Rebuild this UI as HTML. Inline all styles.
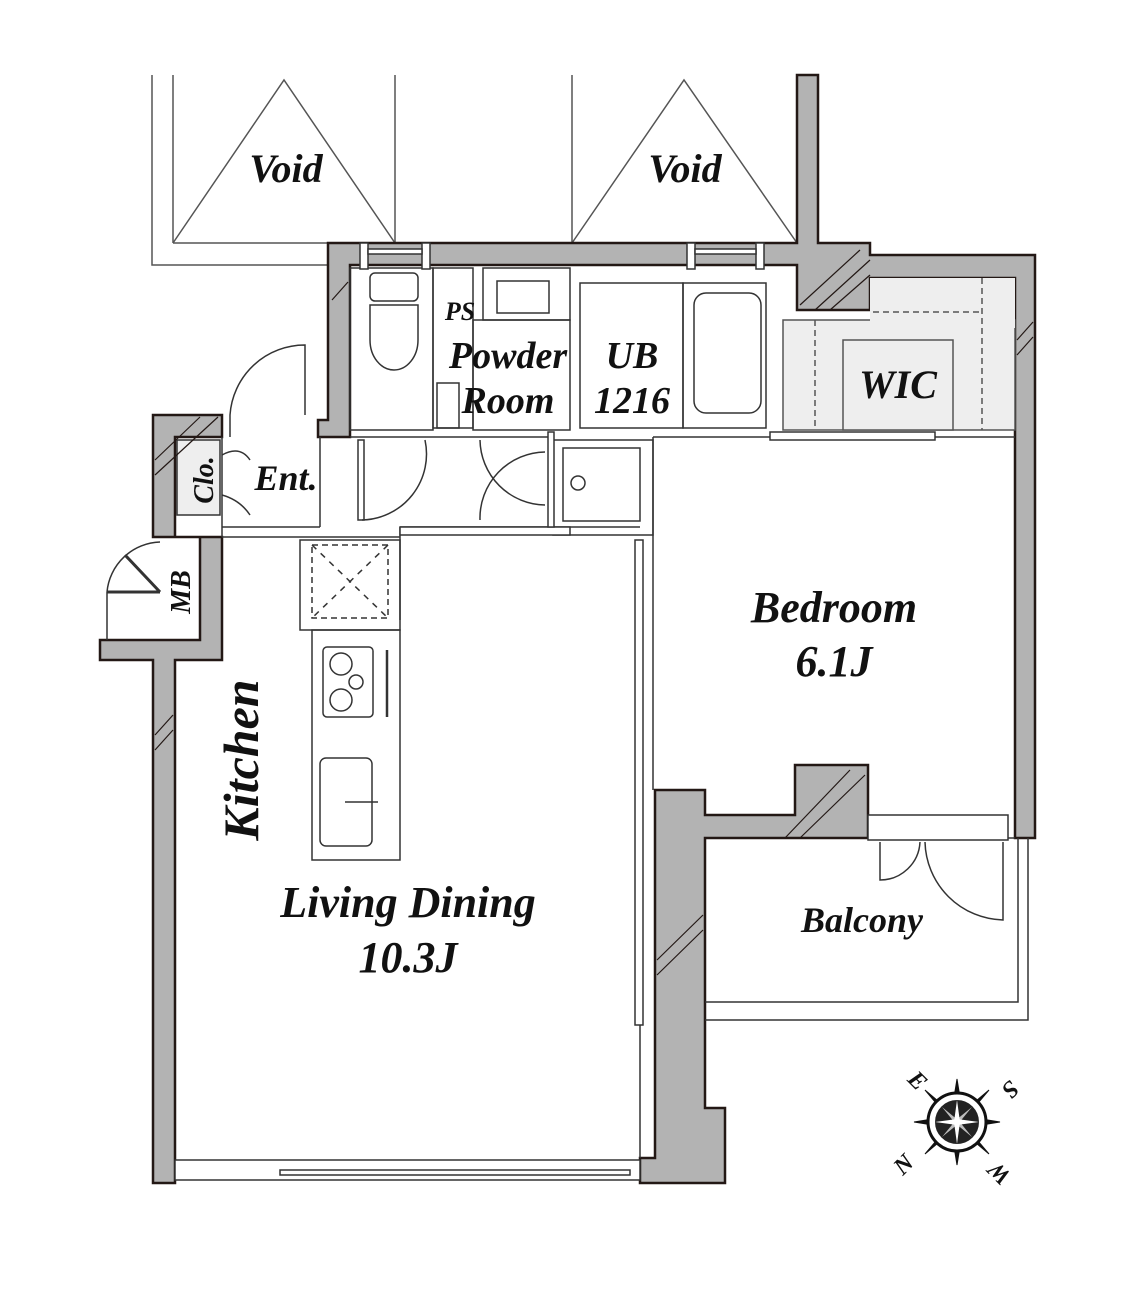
<!DOCTYPE html>
<html><head><meta charset="utf-8"><style>
html,body{margin:0;padding:0;background:#fff}
svg{display:block}
text{font-family:"Liberation Serif",serif;font-weight:bold;font-style:italic;fill:#111}
</style></head><body>
<svg width="1137" height="1294" viewBox="0 0 1137 1294" xmlns="http://www.w3.org/2000/svg">
<g fill="none" stroke="#555" stroke-width="1.5">
<polyline points="152,75 152,265 328,265"/>
<line x1="173" y1="75" x2="173" y2="243"/><line x1="395" y1="75" x2="395" y2="243"/>
<line x1="173" y1="243" x2="395" y2="243"/>
<polyline points="173,243 284,80 395,243"/>
<line x1="572" y1="75" x2="572" y2="243"/><line x1="572" y1="243" x2="797" y2="243"/>
<polyline points="572,243 684,80 797,243"/>
</g>
<g fill="#b3b3b3" stroke="#231815" stroke-width="2.5">
<path d="M328,243 H797 V75 H818 V243 H870 V255 H1035 V838 H1015 V278 H870 V310 H797 V265 H350 V437 H318 V420 H328 Z"/>
<path d="M153,415 H222 V437 H175 V537 H222 V660 H175 V1183 H153 V660 H100 V640 H200 V537 H153 Z"/>
<path d="M655,790 H705 V815 H795 V765 H868 V838 H705 V1108 H725 V1183 H640 V1158 H655 V1108 H655 Z"/>
</g>
<rect x="177" y="440" width="43" height="75" fill="#eee" stroke="#333" stroke-width="1.5"/>
<g stroke="#231815" stroke-width="1.2" fill="none">
<line x1="800" y1="305" x2="860" y2="250"/><line x1="815" y1="310" x2="870" y2="260"/><line x1="830" y1="310" x2="870" y2="275"/>
<line x1="785" y1="838" x2="850" y2="770"/><line x1="800" y1="838" x2="865" y2="775"/>
<line x1="155" y1="460" x2="200" y2="417"/><line x1="155" y1="475" x2="218" y2="417"/>
<line x1="332" y1="300" x2="348" y2="282"/>
<line x1="1017" y1="340" x2="1033" y2="322"/><line x1="1017" y1="355" x2="1033" y2="337"/>
<line x1="155" y1="735" x2="173" y2="715"/><line x1="155" y1="750" x2="173" y2="730"/>
<line x1="657" y1="960" x2="703" y2="915"/><line x1="657" y1="975" x2="703" y2="930"/>
</g>
<g stroke="#555" stroke-width="1.5">
<rect x="783" y="320" width="232" height="110" fill="#eee"/>
<rect x="870" y="278" width="145" height="50" fill="#eee" stroke="none"/>
<rect x="843" y="340" width="110" height="90" fill="#eee"/>
<line x1="815" y1="320" x2="815" y2="430" stroke-dasharray="6,4"/>
<line x1="982" y1="278" x2="982" y2="430" stroke-dasharray="6,4"/>
<line x1="873" y1="312" x2="982" y2="312" stroke-dasharray="6,4"/>
</g>
<g fill="none" stroke="#333" stroke-width="1.5">
<rect x="350" y="268" width="83" height="162"/>
<rect x="370" y="273" width="48" height="28" rx="5"/>
<path d="M370,305 V340 A24,30 0 0 0 418,340 V305 Z"/>
<rect x="433" y="268" width="40" height="160"/>
<rect x="437" y="383" width="22" height="45"/>
<rect x="483" y="268" width="87" height="52"/><rect x="497" y="281" width="52" height="32"/>
<rect x="473" y="320" width="97" height="110"/>
<rect x="580" y="283" width="103" height="145"/>
<rect x="683" y="283" width="83" height="145"/>
<rect x="694" y="293" width="67" height="120" rx="12"/>
<rect x="553" y="440" width="100" height="95"/>
<rect x="563" y="448" width="77" height="73"/>
<circle cx="578" cy="483" r="7"/>
<line x1="222" y1="437" x2="222" y2="537"/>
<line x1="222" y1="527" x2="320" y2="527"/><line x1="320" y1="437" x2="320" y2="527"/>
<line x1="350" y1="437" x2="550" y2="437"/>
<line x1="653" y1="437" x2="1015" y2="437"/>
<line x1="653" y1="437" x2="653" y2="790"/>
<line x1="640" y1="540" x2="640" y2="1158"/>
<line x1="222" y1="537" x2="400" y2="537"/>
<line x1="400" y1="527" x2="640" y2="527"/><line x1="400" y1="527" x2="400" y2="620"/>
<rect x="300" y="540" width="100" height="90"/>
<rect x="312" y="545" width="76" height="73" stroke-dasharray="6,4"/>
<line x1="312" y1="545" x2="388" y2="618" stroke-dasharray="6,6"/><line x1="388" y1="545" x2="312" y2="618" stroke-dasharray="6,6"/>
<rect x="312" y="630" width="88" height="230"/>
<rect x="323" y="647" width="50" height="70" rx="4"/>
<circle cx="341" cy="664" r="11"/><circle cx="356" cy="682" r="7"/><circle cx="341" cy="700" r="11"/>
<line x1="387" y1="650" x2="387" y2="717" stroke-width="2.5"/>
<rect x="320" y="758" width="52" height="88" rx="6"/>
<line x1="345" y1="802" x2="378" y2="802"/>
<path d="M230,415 A75,75 0 0 1 305,345 V415"/>
<line x1="230" y1="415" x2="230" y2="437"/>
<path d="M222,455 Q240,445 250,460 M222,495 Q240,500 250,515"/>
<rect x="358" y="440" width="6" height="80"/><path d="M362,520 A66,66 0 0 0 425,440"/>
<path d="M480,440 A66,66 0 0 0 545,505"/><path d="M480,520 A66,66 0 0 1 545,452"/>
<path d="M880,842 V880 A40,40 0 0 0 920,842"/>
<path d="M925,842 A80,80 0 0 0 1003,920 V842"/>
<path d="M107,592 V640 M107,592 A55,55 0 0 1 160,542"/>
<line x1="107" y1="592" x2="160" y2="592" stroke-width="3"/><line x1="125" y1="555" x2="160" y2="592" stroke-width="3"/>
<polyline points="705,1002 1018,1002 1018,838"/>
<polyline points="705,1020 1028,1020 1028,838"/>
<line x1="870" y1="838" x2="1015" y2="838"/>
</g>
<g fill="#fff" stroke="#333" stroke-width="1.5">
<rect x="360" y="243" width="8" height="26"/><rect x="422" y="243" width="8" height="26"/>
<rect x="368" y="249" width="54" height="5"/>
<rect x="687" y="243" width="8" height="26"/><rect x="756" y="243" width="8" height="26"/>
<rect x="695" y="249" width="61" height="5"/>
<rect x="175" y="1160" width="465" height="20"/>
<rect x="280" y="1170" width="350" height="5"/>
<rect x="770" y="432" width="165" height="8"/>
<rect x="400" y="527" width="170" height="8"/>
<rect x="635" y="540" width="8" height="485"/>
<rect x="868" y="815" width="140" height="25"/>
<rect x="548" y="432" width="6" height="95"/>
</g>
<g transform="translate(957,1122)" stroke="#111" fill="#111">
<polygon points="0,-43 6,-6 43,0 6,6 0,43 -6,6 -43,0 -6,-6"/>
<polygon points="-32,-32 0,-5 32,-32 5,0 32,32 0,5 -32,32 -5,0"/>
<circle r="29" fill="#fff" stroke-width="3"/>
<circle r="23" fill="#222" stroke="#fff" stroke-width="2"/>
<g fill="#fff" stroke="none">
<polygon points="0,-22 3,0 0,22 -3,0"/>
<polygon points="-22,0 0,3 22,0 0,-3"/>
<polygon points="-15,-15 2,-1 15,15 -2,1" opacity="0.7"/>
<polygon points="15,-15 1,2 -15,15 -1,-2" opacity="0.7"/>
</g>
</g>
<g font-size="24" text-anchor="middle">
<text transform="translate(912,1086) rotate(45)">E</text>
<text transform="translate(1005,1084) rotate(135)">S</text>
<text transform="translate(909,1170) rotate(-45)">N</text>
<text transform="translate(1005,1168) rotate(-135)">W</text>
</g>
<text x="286" y="182" font-size="40" text-anchor="middle">Void</text>
<text x="685" y="182" font-size="40" text-anchor="middle">Void</text>
<text x="460" y="320" font-size="26" text-anchor="middle">PS</text>
<text x="508" y="368" font-size="38" text-anchor="middle">Powder</text>
<text x="508" y="413" font-size="38" text-anchor="middle">Room</text>
<text x="632" y="368" font-size="38" text-anchor="middle">UB</text>
<text x="632" y="413" font-size="38" text-anchor="middle">1216</text>
<text x="898" y="398" font-size="40" text-anchor="middle">WIC</text>
<text x="286" y="490" font-size="36" text-anchor="middle">Ent.</text>
<text transform="translate(213,480) rotate(-90)" font-size="28" text-anchor="middle">Clo.</text>
<text transform="translate(190,592) rotate(-90)" font-size="28" text-anchor="middle">MB</text>
<text transform="translate(258,760) rotate(-90)" font-size="50" text-anchor="middle">Kitchen</text>
<text x="834" y="622" font-size="44" text-anchor="middle">Bedroom</text>
<text x="834" y="676" font-size="44" text-anchor="middle">6.1J</text>
<text x="408" y="917" font-size="44" text-anchor="middle">Living Dining</text>
<text x="408" y="972" font-size="44" text-anchor="middle">10.3J</text>
<text x="862" y="932" font-size="36" text-anchor="middle">Balcony</text>
</svg>
</body></html>
